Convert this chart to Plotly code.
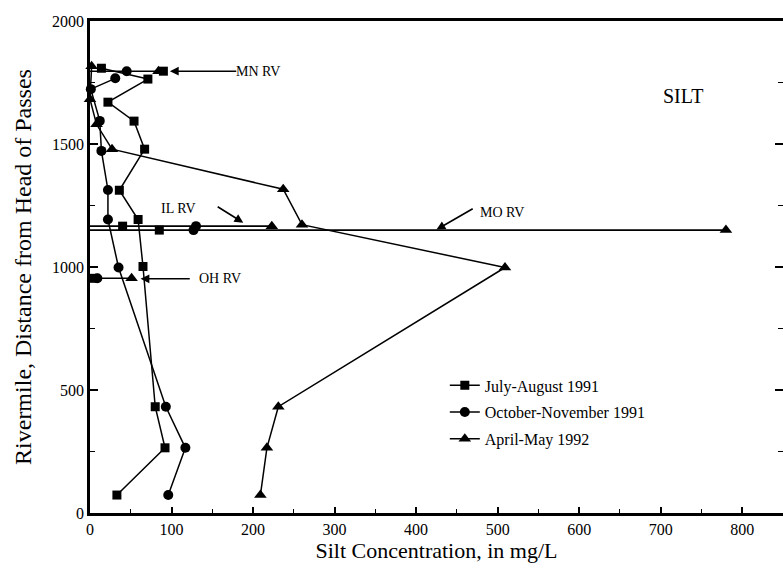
import plotly.graph_objects as go

# Main-stem samples: river mile (distance above Head of Passes) and silt concentration, mg/L
rm_jul = [73, 265, 432, 1002, 1193, 1312, 1479, 1593, 1670, 1764, 1808]
silt_jul = [33, 92, 80, 65, 59, 36, 67, 54, 22, 71, 14]

rm_oct = [73, 265, 432, 998, 1193, 1313, 1472, 1594, 1723, 1767]
silt_oct = [96, 117, 93, 35, 22, 22, 14, 12, 1, 31]

rm_apr = [73, 265, 432, 998, 1172, 1316, 1479, 1580, 1682, 1816]
silt_apr = [209, 217, 231, 509, 260, 237, 27, 8, 0, 2]

# Tributaries, plotted at their confluence river mile
trib_names = ["OH RV", "MO RV", "IL RV", "MN RV"]
trib_rm = [954, 1150, 1166, 1796]
trib_jul = [5, 85, 40, 90]
trib_oct = [9, 127, 130, 45]
trib_apr = [51, 780, 223, 84]

series_names = ["July-August 1991", "October-November 1991", "April-May 1992"]
symbols = ["square", "circle", "triangle-up"]

FONT = "Liberation Serif, Times New Roman, serif"
INK = "black"

fig = go.Figure()

# horizontal tie line across each tributary's values
for i, name in enumerate(trib_names):
    hi = max(trib_jul[i], trib_oct[i], trib_apr[i])
    fig.add_trace(go.Scatter(
        x=[0, hi], y=[trib_rm[i], trib_rm[i]], mode="lines",
        line=dict(color=INK, width=1.6), showlegend=False,
        hoverinfo="skip", cliponaxis=False))

mains = [(rm_jul, silt_jul), (rm_oct, silt_oct), (rm_apr, silt_apr)]
tribs = [trib_jul, trib_oct, trib_apr]
sizes = [9, 10, 11]
for k, name in enumerate(series_names):
    rm, silt = mains[k]
    fig.add_trace(go.Scatter(
        x=silt, y=rm, mode="lines+markers", name=name,
        legendgroup=name,
        line=dict(color=INK, width=1.5),
        marker=dict(symbol=symbols[k], size=sizes[k], color=INK),
        cliponaxis=False))
    fig.add_trace(go.Scatter(
        x=tribs[k], y=trib_rm, mode="markers", showlegend=False,
        legendgroup=name,
        marker=dict(symbol=symbols[k], size=sizes[k], color=INK),
        cliponaxis=False))

# right-hand tick marks (no frame line on that side)
fig.add_trace(go.Scatter(x=[None], y=[None], yaxis="y2", showlegend=False,
                         hoverinfo="skip"))

# tributary labels with pointer arrows
labels = [
    # text, text x, text y, arrow tail (x, y), arrow tip (x, y)
    ("MN RV", 206, 1796, (180, 1796), (98, 1796)),
    ("IL RV", 108, 1238, (156, 1246), (188, 1180)),
    ("MO RV", 505, 1220, (470, 1238), (425, 1152)),
    ("OH RV", 160, 952, (123, 952), (62, 952)),
]
for text, tx, ty, tail, tip in labels:
    fig.add_annotation(x=tx, y=ty, xref="x", yref="y", text=text,
                       showarrow=False,
                       font=dict(family=FONT, size=14, color=INK))
    fig.add_annotation(x=tip[0], y=tip[1], xref="x", yref="y",
                       ax=tail[0], ay=tail[1], axref="x", ayref="y",
                       text=" ", font=dict(size=1), borderpad=0,
                       showarrow=True, arrowhead=2,
                       arrowsize=1.1, arrowwidth=1.6, arrowcolor=INK)

fig.add_annotation(x=0.888, y=0.875, xref="paper", yref="paper",
                   text="SILT", showarrow=False,
                   font=dict(family=FONT, size=20, color=INK))

fig.update_layout(
    width=783, height=569,
    margin=dict(l=90, r=0, t=21, b=56),
    paper_bgcolor="white", plot_bgcolor="white",
    font=dict(family=FONT, size=16, color=INK),
    showlegend=True,
    legend=dict(x=0.512, y=0.294, xanchor="left", yanchor="top",
                bgcolor="rgba(0,0,0,0)", borderwidth=0,
                font=dict(family=FONT, size=16, color=INK),
                tracegroupgap=3, traceorder="grouped", itemwidth=30),
    yaxis2=dict(overlaying="y", side="right", range=[0, 2000],
                tickmode="array", tickvals=list(range(0, 2001, 500)),
                ticks="inside", ticklen=8, tickwidth=1.5, tickcolor=INK,
                minor=dict(tickvals=list(range(250, 2000, 500)),
                           ticks="inside", ticklen=5, tickwidth=1.2,
                           tickcolor=INK),
                showticklabels=False, showline=False, showgrid=False,
                zeroline=False),
)

fig.update_xaxes(
    range=[0, 850], tickmode="array", tickvals=list(range(0, 801, 100)),
    ticks="inside", ticklen=6, tickwidth=1.5, tickcolor=INK,
    minor=dict(tickvals=list(range(50, 801, 100)), ticks="inside",
               ticklen=4, tickwidth=1.2, tickcolor=INK),
    showline=True, linecolor=INK, linewidth=2.5, mirror=True,
    showgrid=False, zeroline=False,
    tickfont=dict(family=FONT, size=16, color=INK),
    title=dict(text="Silt Concentration, in mg/L", standoff=3,
               font=dict(family=FONT, size=22, color=INK)),
)
fig.update_yaxes(
    selector=dict(anchor="x"),
    range=[0, 2000], tickmode="array", tickvals=list(range(0, 2001, 500)),
    ticks="inside", ticklen=8, tickwidth=1.5, tickcolor=INK,
    minor=dict(tickvals=list(range(250, 2000, 500)), ticks="inside",
               ticklen=5, tickwidth=1.2, tickcolor=INK),
    showline=True, linecolor=INK, linewidth=2.5, mirror=False,
    showgrid=False, zeroline=False,
    tickfont=dict(family=FONT, size=16, color=INK),
    title=dict(text="Rivermile, Distance from Head of Passes", standoff=14,
               font=dict(family=FONT, size=24, color=INK)),
)
fig.layout.yaxis.update(
    range=[0, 2000], tickmode="array", tickvals=list(range(0, 2001, 500)),
    ticks="inside", ticklen=8, tickwidth=1.5, tickcolor=INK,
    minor=dict(tickvals=list(range(250, 2000, 500)), ticks="inside",
               ticklen=5, tickwidth=1.2, tickcolor=INK),
    showline=True, linecolor=INK, linewidth=2.5, mirror=False,
    showgrid=False, zeroline=False,
    tickfont=dict(family=FONT, size=16, color=INK),
    title=dict(text="Rivermile, Distance from Head of Passes", standoff=14,
               font=dict(family=FONT, size=24, color=INK)),
)

fig.write_html("out.html")
